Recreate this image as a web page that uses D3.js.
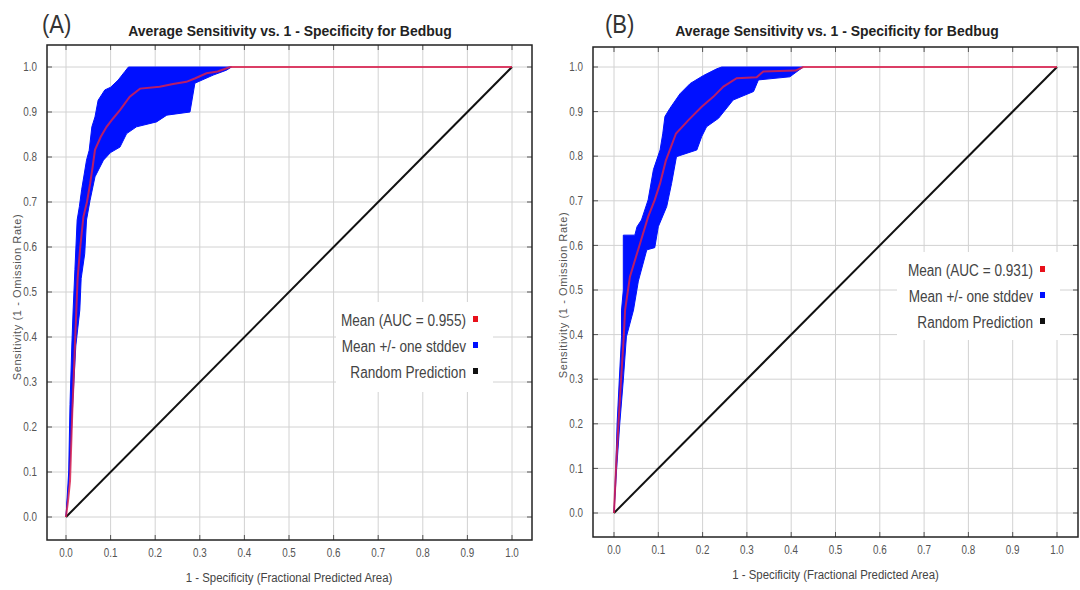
<!DOCTYPE html>
<html>
<head>
<meta charset="utf-8">
<script src="https://cdn.jsdelivr.net/npm/d3@7"></script>
<style>
  html, body { margin: 0; padding: 0; background: #fff; }
  svg { display: block; }
  text { font-family: "Liberation Sans", Arial, sans-serif; }
</style>
</head>
<body>
<svg id="chart" width="1080" height="590"></svg>
<script>
// Axis ticks shared by both panels
const xTicks = [0, 0.1, 0.2, 0.3, 0.4, 0.5, 0.6, 0.7, 0.8, 0.9, 1.0];
const yTicks = [0, 0.1, 0.2, 0.3, 0.4, 0.5, 0.6, 0.7, 0.8, 0.9, 1.0];

const titleText = "Average Sensitivity vs. 1 - Specificity for Bedbug";
const xLabel = "1 - Specificity (Fractional Predicted Area)";
const yLabel = "Sensitivity (1 - Omission Rate)";
const randomLine = [[0, 0], [1, 1]];

// Panel A: mean ROC curve and the mean +/- one stddev band edges
const panelLabelA = "(A)";
const aucA = 0.955;
const meanA = [[0,0],[0.005,0.04],[0.009,0.08],[0.014,0.23],[0.02,0.38],[0.026,0.53],[0.032,0.6],
  [0.039,0.667],[0.047,0.70],[0.054,0.74],[0.06,0.78],[0.065,0.816],[0.078,0.845],[0.091,0.867],
  [0.105,0.885],[0.121,0.904],[0.143,0.934],[0.166,0.952],[0.21,0.956],[0.24,0.962],[0.27,0.967],
  [0.29,0.975],[0.315,0.986],[0.34,0.99],[0.368,1.0],[1,1]];
const upperA = [[0,0],[0.006,0.1],[0.009,0.25],[0.013,0.38],[0.016,0.46],[0.02,0.55],[0.025,0.66],
  [0.03,0.69],[0.035,0.727],[0.046,0.793],[0.052,0.815],[0.058,0.867],[0.065,0.889],[0.072,0.926],
  [0.087,0.949],[0.1,0.955],[0.117,0.971],[0.132,0.99],[0.14,1.0]];
const lowerA = [[0,0],[0.008,0.1],[0.015,0.25],[0.022,0.38],[0.031,0.46],[0.034,0.53],[0.042,0.585],
  [0.046,0.66],[0.054,0.704],[0.065,0.756],[0.084,0.793],[0.1,0.81],[0.121,0.822],[0.136,0.852],
  [0.158,0.867],[0.203,0.878],[0.226,0.893],[0.278,0.9],[0.289,0.964],[0.33,0.982],[0.36,0.993],
  [0.371,1.0]];

// Panel B
const panelLabelB = "(B)";
const aucB = 0.931;
const meanB = [[0,0],[0.005,0.11],[0.01,0.2],[0.016,0.3],[0.022,0.395],[0.025,0.455],[0.036,0.53],
  [0.059,0.605],[0.077,0.664],[0.092,0.702],[0.104,0.739],[0.117,0.79],[0.14,0.851],[0.168,0.881],
  [0.198,0.911],[0.224,0.933],[0.247,0.956],[0.277,0.975],[0.322,0.977],[0.337,0.99],[0.41,0.992],
  [0.427,1.0],[1,1]];
const upperB = [[0,0],[0.004,0.1],[0.007,0.2],[0.012,0.3],[0.017,0.395],[0.017,0.455],[0.021,0.5],
  [0.021,0.623],[0.047,0.623],[0.052,0.642],[0.062,0.657],[0.077,0.702],[0.089,0.77],[0.104,0.814],
  [0.11,0.85],[0.115,0.889],[0.126,0.907],[0.149,0.94],[0.172,0.963],[0.202,0.981],[0.232,0.996],
  [0.243,1.0]];
const lowerB = [[0,0],[0.006,0.1],[0.013,0.2],[0.021,0.298],[0.028,0.395],[0.044,0.455],[0.055,0.52],
  [0.074,0.59],[0.092,0.595],[0.1,0.642],[0.119,0.687],[0.13,0.739],[0.141,0.799],[0.187,0.814],
  [0.198,0.844],[0.209,0.866],[0.236,0.885],[0.269,0.926],[0.315,0.945],[0.326,0.971],[0.397,0.978],
  [0.427,1.0]];

const legendLabels = (auc) => [
  { text: "Mean (AUC = " + auc.toFixed(3) + ")", color: "#e8101a" },
  { text: "Mean +/- one stddev", color: "#0010ff" },
  { text: "Random Prediction", color: "#111" }
];

const svg = d3.select("#chart");

// squeeze glyphs horizontally to get a narrow typeface look
function condense(sel, factor) {
  sel.each(function () {
    const w = this.getComputedTextLength();
    d3.select(this).attr("textLength", w * factor).attr("lengthAdjust", "spacingAndGlyphs");
  });
  return sel;
}

function drawPanel(p, d) {
  const g = svg.append("g");
  const x = d3.scaleLinear().domain([0, 1]).range([p.x0, p.x1]);
  const y = d3.scaleLinear().domain([0, 1]).range([p.y0, p.y1]);

  // grid
  g.append("g").selectAll("line").data(xTicks).join("line")
    .attr("x1", v => x(v)).attr("x2", v => x(v))
    .attr("y1", p.top).attr("y2", p.bottom)
    .attr("stroke", "#d2d2d2").attr("stroke-width", 1);
  g.append("g").selectAll("line").data(yTicks).join("line")
    .attr("y1", v => y(v)).attr("y2", v => y(v))
    .attr("x1", p.left).attr("x2", p.right)
    .attr("stroke", "#d2d2d2").attr("stroke-width", 1);

  // ticks on the frame
  const tk = 5;
  const tg = g.append("g").attr("stroke", "#555").attr("stroke-width", 1);
  xTicks.forEach(v => {
    tg.append("line").attr("x1", x(v)).attr("x2", x(v)).attr("y1", p.bottom).attr("y2", p.bottom - tk);
    tg.append("line").attr("x1", x(v)).attr("x2", x(v)).attr("y1", p.top).attr("y2", p.top + tk);
  });
  yTicks.forEach(v => {
    tg.append("line").attr("y1", y(v)).attr("y2", y(v)).attr("x1", p.left).attr("x2", p.left + tk);
    tg.append("line").attr("y1", y(v)).attr("y2", y(v)).attr("x1", p.right).attr("x2", p.right - tk);
  });

  // legend box (covers the grid)
  const lg = g.append("g");
  lg.append("rect").attr("x", p.legX).attr("y", p.legY).attr("width", p.legW).attr("height", p.legH)
    .attr("fill", "#fff");
  legendLabels(d.auc).forEach((item, i) => {
    const cy = p.legY + 18 + i * 26;
    condense(lg.append("text").attr("x", p.legX + p.legW - 27).attr("y", cy).attr("dy", "0.35em")
      .attr("text-anchor", "end").attr("font-size", 16).attr("fill", "#444").text(item.text), 0.85);
    lg.append("rect").attr("x", p.legX + p.legW - 20).attr("y", cy - 4).attr("width", 5).attr("height", 6)
      .attr("fill", item.color);
  });

  // std band
  const line = d3.line().x(v => x(v[0])).y(v => y(v[1]));
  const band = d.upper.concat([[d.lower[d.lower.length - 1][0], 1]], d.lower.slice().reverse());
  g.append("path").attr("d", line(band) + "Z").attr("fill", "#0010ff").attr("stroke", "#0010ff")
    .attr("stroke-width", 1).attr("stroke-linejoin", "round");

  // random prediction
  g.append("path").attr("d", line(randomLine)).attr("fill", "none")
    .attr("stroke", "#111").attr("stroke-width", 2);

  // mean curve
  g.append("path").attr("d", line(d.mean)).attr("fill", "none")
    .attr("stroke", "#d8204e").attr("stroke-opacity", 0.85).attr("stroke-width", 2);

  // frame
  g.append("rect").attr("x", p.left).attr("y", p.top)
    .attr("width", p.right - p.left).attr("height", p.bottom - p.top)
    .attr("fill", "none").attr("stroke", "#222").attr("stroke-width", 1.5);

  // tick labels
  condense(g.append("g").selectAll("text").data(xTicks).join("text")
    .attr("x", v => x(v)).attr("y", p.bottom + 13).attr("dy", "0.35em")
    .attr("text-anchor", "middle").attr("font-size", 12).attr("fill", "#555")
    .text(d3.format(".1f")), 0.82);
  condense(g.append("g").selectAll("text").data(yTicks).join("text")
    .attr("x", p.left - 10).attr("y", v => y(v)).attr("dy", "0.35em")
    .attr("text-anchor", "end").attr("font-size", 12).attr("fill", "#555")
    .text(d3.format(".1f")), 0.82);

  // axis titles
  condense(g.append("text").attr("x", (p.x0 + p.x1) / 2).attr("y", p.bottom + 42)
    .attr("text-anchor", "middle").attr("font-size", 12).attr("fill", "#444").text(xLabel), 0.95);
  g.append("text").attr("transform", `translate(${p.left - 26},${(p.y0 + p.y1) / 2 + 5}) rotate(-90)`)
    .attr("text-anchor", "middle").attr("font-size", 11).attr("fill", "#555")
    .attr("letter-spacing", 0.6).text(yLabel);

  // titles
  condense(g.append("text").attr("x", p.titleX).attr("y", 36).attr("text-anchor", "middle")
    .attr("font-size", 15).attr("font-weight", "bold").attr("fill", "#222").text(titleText), 0.93);
  condense(g.append("text").attr("x", p.labelX).attr("y", 33).attr("font-size", 26)
    .attr("fill", "#333").text(d.label), 0.85);
}

drawPanel(
  { left: 47, right: 532, top: 45, bottom: 540, x0: 66, x1: 512, y0: 517, y1: 67,
    legX: 336, legY: 302, legW: 157, legH: 90, titleX: 290, labelX: 42 },
  { label: panelLabelA, auc: aucA, mean: meanA, upper: upperA, lower: lowerA }
);
drawPanel(
  { left: 593, right: 1078, top: 47, bottom: 537, x0: 614, x1: 1057, y0: 513, y1: 67,
    legX: 897, legY: 252, legW: 163, legH: 88, titleX: 837, labelX: 605 },
  { label: panelLabelB, auc: aucB, mean: meanB, upper: upperB, lower: lowerB }
);
</script>
</body>
</html>
